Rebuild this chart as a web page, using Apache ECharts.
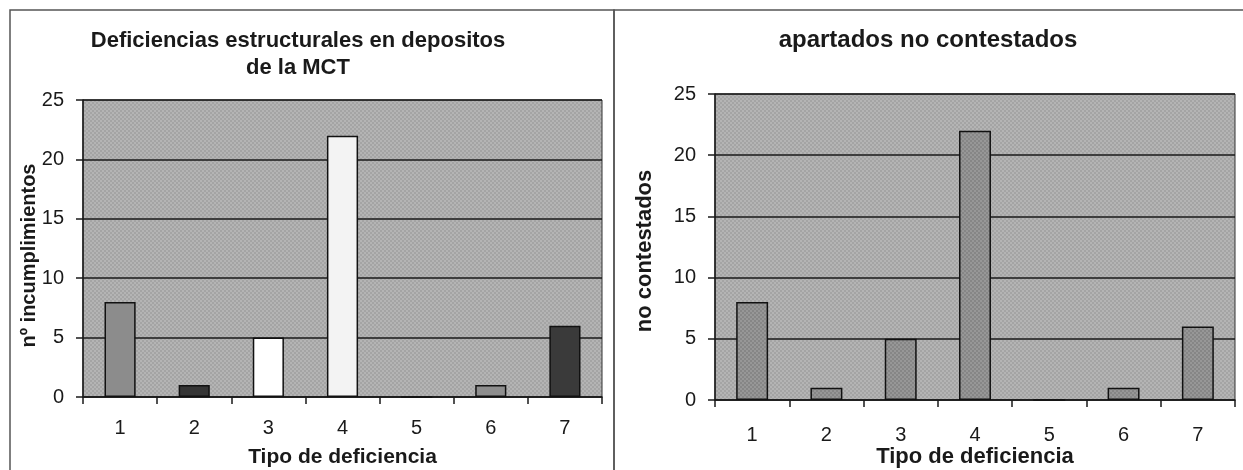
<!DOCTYPE html>
<html>
<head>
<meta charset="utf-8">
<script src="https://cdn.jsdelivr.net/npm/echarts@6/dist/echarts.min.js"></script>
<style>
html,body{margin:0;padding:0;background:#fff;}
#chart{width:1243px;height:470px;}
</style>
</head>
<body>
<div id="chart"></div>
<script>
// ---- data ----
var categories = ['1', '2', '3', '4', '5', '6', '7'];
var incumplimientos = [8, 1, 5, 22, 0, 1, 6];
var noContestados = [8, 1, 5, 22, 0, 1, 6];
var yTicks = [0, 5, 10, 15, 20, 25];
var leftTitle = 'Deficiencias estructurales en depositos\nde la MCT';
var rightTitle = 'apartados no contestados';
var xName = 'Tipo de deficiencia';
var leftYName = 'nº incumplimientos';
var rightYName = 'no contestados';

// ---- styling ----
var FONT = '"Liberation Sans", Arial, sans-serif';
function checker(c1, c2) {
  var cv = document.createElement('canvas');
  cv.width = 4; cv.height = 4;
  var ctx = cv.getContext('2d');
  ctx.fillStyle = c1; ctx.fillRect(0, 0, 4, 4);
  ctx.fillStyle = c2; ctx.fillRect(0, 0, 2, 2); ctx.fillRect(2, 2, 2, 2);
  return { image: cv, repeat: 'repeat' };
}
var plotBg = checker('#a4a4a4', '#b4b4b4');
var leftBarColors = ['#8c8c8c', '#353535', '#ffffff', '#f3f3f3', '#8c8c8c', '#8e8e8e', '#3a3a3a'];
var rightBarColor = checker('#868686', '#979797');

var chart = echarts.init(document.getElementById('chart'));

function makeY(gridIndex, name, gap, nameSize, namePad) {
  return {
    type: 'value', gridIndex: gridIndex, min: yTicks[0], max: yTicks[yTicks.length - 1], interval: 5,
    name: name, nameLocation: 'middle', nameGap: gap, nameRotate: 90, nameMoveOverlap: false,
    nameTextStyle: { color: '#1a1a1a', fontFamily: FONT, fontWeight: 'bold', fontSize: nameSize, padding: namePad },
    axisLine: { show: true, lineStyle: { color: '#1a1a1a', width: 1.5 } },
    axisTick: { show: true, length: 7, lineStyle: { color: '#1a1a1a', width: 1.5 } },
    axisLabel: { color: '#1a1a1a', fontFamily: FONT, fontSize: 20, margin: 19 },
    splitLine: { show: true, lineStyle: { color: '#1a1a1a', width: 1.5 } }
  };
}
function makeX(gridIndex, gapLabel, gapName, nameSize) {
  return {
    type: 'category', gridIndex: gridIndex, data: categories, boundaryGap: true,
    name: xName, nameLocation: 'middle', nameGap: gapName, nameMoveOverlap: false,
    nameTextStyle: { color: '#1a1a1a', fontFamily: FONT, fontWeight: 'bold', fontSize: nameSize },
    axisLine: { show: true, lineStyle: { color: '#1a1a1a', width: 1.5 } },
    axisTick: { show: true, length: 7, alignWithLabel: false, lineStyle: { color: '#1a1a1a', width: 1.5 } },
    axisLabel: { color: '#1a1a1a', fontFamily: FONT, fontSize: 20, margin: gapLabel, interval: 0 },
    splitLine: { show: false }
  };
}

var option = {
  backgroundColor: '#ffffff',
  animation: false,
  title: [
    { text: leftTitle, left: 298, top: 27, textAlign: 'center', padding: 0,
      textStyle: { color: '#1a1a1a', fontFamily: FONT, fontWeight: 'bold', fontSize: 22, lineHeight: 27 } },
    { text: rightTitle, left: 928, top: 28, textAlign: 'center', padding: 0,
      textStyle: { color: '#1a1a1a', fontFamily: FONT, fontWeight: 'bold', fontSize: 24 } }
  ],
  grid: [
    { left: 83, top: 100, width: 519, height: 297, show: true, backgroundColor: plotBg,
      borderColor: '#333', borderWidth: 1, containLabel: false, outerBoundsMode: 'none' },
    { left: 715, top: 94, width: 520, height: 306, show: true, backgroundColor: plotBg,
      borderColor: '#333', borderWidth: 1, containLabel: false, outerBoundsMode: 'none' }
  ],
  xAxis: [makeX(0, 21, 50, 21), makeX(1, 25, 46, 22)],
  yAxis: [makeY(0, leftYName, 44, 20, [0, 14, 0, 0]), makeY(1, rightYName, 59, 22, [0, 8, 0, 0])],
  series: [
    {
      type: 'bar', xAxisIndex: 0, yAxisIndex: 0, barWidth: '42%',
      data: incumplimientos.map(function (v, i) {
        return { value: v, itemStyle: { color: leftBarColors[i] } };
      }),
      itemStyle: { borderColor: '#111', borderWidth: 1.5 }
    },
    {
      type: 'bar', xAxisIndex: 1, yAxisIndex: 1, barWidth: '43%',
      data: noContestados,
      itemStyle: { color: rightBarColor, borderColor: '#111', borderWidth: 1.5 }
    }
  ],
  graphic: [
    { type: 'rect', shape: { x: 10, y: 10, width: 604, height: 470 }, silent: true,
      style: { fill: null, stroke: '#555', lineWidth: 1.5 } },
    { type: 'rect', shape: { x: 614, y: 10, width: 640, height: 470 }, silent: true,
      style: { fill: null, stroke: '#555', lineWidth: 1.5 } }
  ]
};
chart.setOption(option);
</script>
</body>
</html>
